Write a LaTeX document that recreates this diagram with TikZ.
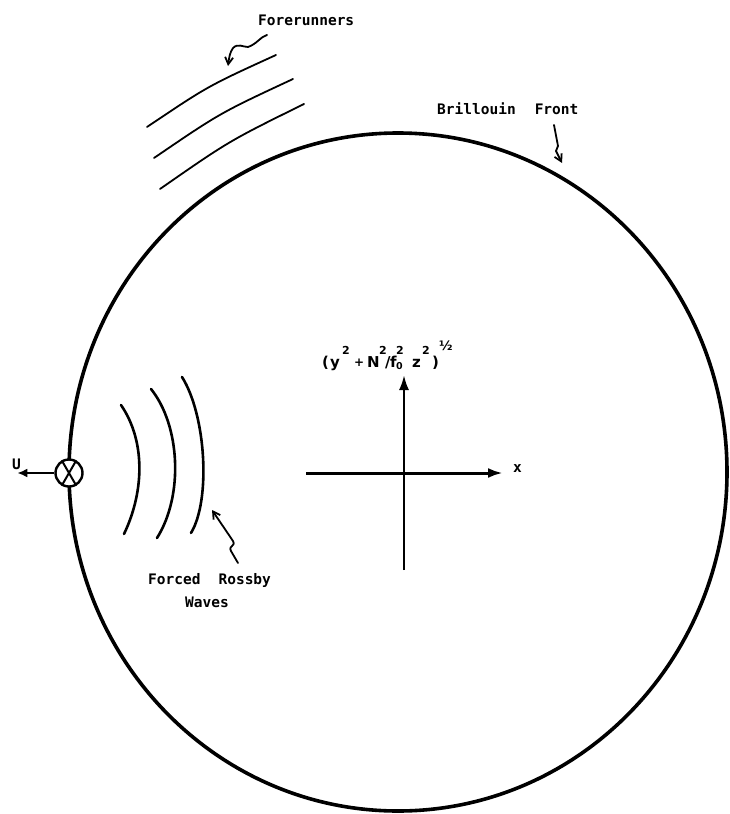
\documentclass[tikz,border=0pt]{standalone}
\usepackage{fontspec}
\setmainfont{DejaVu Sans}
\newfontfamily\labfont{DejaVu Sans Mono}
\usetikzlibrary{arrows.meta}
\newcommand\fbx[2]{\makebox[#1pt][l]{#2}}
\newcommand\supr[1]{\raisebox{13pt}{\fontsize{11}{11}\selectfont #1}}
\begin{document}
\begin{tikzpicture}[x=1pt,y=-1pt,
  lab/.style={font=\labfont\bfseries\fontsize{14.5}{14.5}\selectfont, inner sep=0pt, anchor=base west},
  formula/.style={font=\bfseries\fontsize{15}{15}\selectfont, inner sep=0pt, anchor=base west},
  thinline/.style={line width=1.8pt, line cap=round},
  wave/.style={line width=2.6pt, line cap=round},
  pointer/.style={line width=1.8pt, line cap=round, line join=round, -{Straight Barb[length=7pt,width=8pt]}},
  axis/.style={-{Latex[length=15pt,width=10pt]}}
]
\useasboundingbox (0,0) rectangle (729,814);

% Brillouin front (big circle)
\draw[line width=3.6pt] (398,472) ellipse [x radius=329, y radius=339];

% forerunners
\draw[thinline] (147,127) .. controls (208,86) .. (276,55);
\draw[thinline] (154,158) .. controls (220,113) .. (293,79);
\draw[thinline] (160,189) .. controls (229,141) .. (304,104);

% forced Rossby waves
\draw[wave] (121,405) .. controls (145,440) and (145,490) .. (124,534);
\draw[wave] (151,389) .. controls (180,425) and (184,495) .. (157,538);
\draw[wave] (182,377) .. controls (206,415) and (211,500) .. (191,533);

% labels
\node[lab] (fore) at (258,25.5) {Forerunners};
\node[lab] (bril) at (437,114.5) {Brillouin\hspace{19pt}Front};
\node[lab] (forced) at (148,584.5) {Forced\hspace{18pt}Rossby};
\node[lab] (waves) at (185,607.5) {Waves};
\node[lab] (ulab) at (12,469) {U};
\node[lab] (xlab) at (513,472) {x};

% pointer arrows
\coordinate (foreT) at (267,35);
\coordinate (foreH) at (228,66);
\draw[pointer] (foreT) .. controls (260,37) and (257,44) .. (248,47)
   .. controls (243,47) and (238,43) .. (233,48)
   .. controls (230,52) and (229,58) .. (foreH);
\coordinate (brilT) at (554,125);
\coordinate (brilH) at (562,163);
\draw[pointer] (brilT) .. controls (556,135) .. (558,146) -- (556,151) -- (brilH);
\coordinate (rossT) at (238,563);
\coordinate (rossH) at (212,510);
\draw[pointer] (rossT) -- (231,551) .. controls (228,545) and (236,547) .. (233,541) -- (rossH);

% source marker
\node[circle, draw, fill=white, line width=2.4pt, minimum size=27pt, inner sep=0pt] (xm) at (69,473) {};
\draw[line width=2pt] (xm.60) -- (xm.240) (xm.120) -- (xm.300);
\draw[line width=2.4pt, -{Latex[length=10pt,width=9pt]}] (xm.west) -- ++(-37,0) coordinate (utip);

% axes
\coordinate (o) at (404,473);
\coordinate (xl) at (306,473);
\coordinate (xr) at (503,473);
\coordinate (yb) at (404,570);
\coordinate (yt) at (404,375);
\draw[axis, line width=3pt] (xl) -- (xr);
\draw[axis, line width=2.4pt] (yb) -- (yt);

\node[formula] (flab) at (322,367) {\fbx{8}{(}\fbx{12}{y}\fbx{12}{\supr{2}}\fbx{13}{\raisebox{0.5pt}{\fontsize{12}{12}\selectfont +}}\fbx{12}{N}\fbx{6}{\supr{2}}\fbx{5}{/}\fbx{6}{f}\fbx{16}{\rlap{\raisebox{-2pt}{\fontsize{9.5}{9.5}\selectfont 0}}\supr{2}}\fbx{10}{z}\fbx{10}{\supr{2}}\fbx{7}{)}\raisebox{17pt}{\fontsize{13}{13}\selectfont ½}};
\end{tikzpicture}
\end{document}
